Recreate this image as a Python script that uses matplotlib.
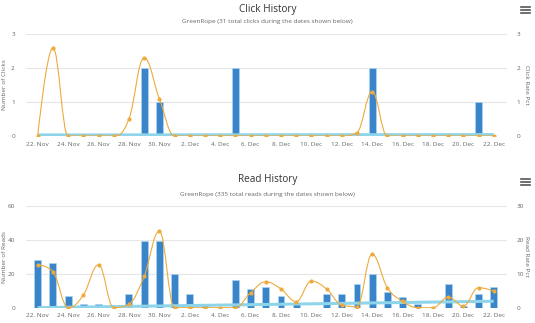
import numpy as np
import pandas as pd
import matplotlib
matplotlib.use("Agg")
import matplotlib.pyplot as plt
import matplotlib.dates as mdates
from matplotlib.path import Path
from matplotlib.patches import PathPatch
from matplotlib.lines import Line2D

plt.rcParams['font.family'] = ['Open Sans', 'DejaVu Sans']

# data
dates = pd.date_range("2015-11-22", "2015-12-22", freq="D")

click_counts = [0, 0, 0, 0, 0, 0, 0, 2, 1, 0, 0, 0, 0, 2, 0, 0,
                0, 0, 0, 0, 0, 0, 2, 0, 0, 0, 0, 0, 0, 1, 0]
click_rate = [0, 2.6, 0, 0, 0, 0, 0.5, 2.3, 1.1, 0, 0, 0, 0, 0, 0, 0,
              0, 0, 0, 0, 0, 0.1, 1.3, 0, 0, 0, 0, 0, 0, 0, 0]
click_trend = [0.03, 0.04]   # start / end of trend line

read_counts = [28, 26, 7, 2, 2, 0, 8, 39, 39, 20, 8, 2, 0, 16, 11, 12,
               7, 3, 0, 8, 8, 14, 20, 9, 6, 2, 0, 14, 1, 8, 12]
read_rate = [12.6, 10.6, 0, 3.7, 12.6, 0, 1.1, 9.2, 22.5, 0, 0, 0, 0, 0, 4.4, 7.6,
             5.5, 1.8, 7.8, 5.5, 0.8, 0.3, 15.7, 5.9, 1.9, 0, 0, 3.1, 0.5, 5.9, 4.9]
read_trend = [0.0, 1.9]

BAR_C = "#3a85c9"
LINE_C = "#eeaa3c"
TREND_C = "#8fd5ea"
GRID_C = "#e6e6e6"
TXT_C = "#666666"


def spline_path(xs, ys, smoothing=1.5):
    # highcharts-style spline: cubic bezier with horizontal tangents at extremes
    n = len(xs)
    denom = smoothing + 1
    lc = [None] * n
    rc = [None] * n
    for i in range(1, n - 1):
        px, py = xs[i], ys[i]
        lx, ly = xs[i - 1], ys[i - 1]
        nx, ny = xs[i + 1], ys[i + 1]
        lcx = (smoothing * px + lx) / denom
        lcy = (smoothing * py + ly) / denom
        rcx = (smoothing * px + nx) / denom
        rcy = (smoothing * py + ny) / denom
        if rcx != lcx:
            corr = (rcy - lcy) * (rcx - px) / (rcx - lcx) + py - rcy
            lcy += corr
            rcy += corr
        if lcy > ly and lcy > py:
            lcy = max(ly, py); rcy = 2 * py - lcy
        elif lcy < ly and lcy < py:
            lcy = min(ly, py); rcy = 2 * py - lcy
        if rcy > ny and rcy > py:
            rcy = max(ny, py); lcy = 2 * py - rcy
        elif rcy < ny and rcy < py:
            rcy = min(ny, py); lcy = 2 * py - rcy
        lc[i] = (lcx, lcy)
        rc[i] = (rcx, rcy)
    verts = [(xs[0], ys[0])]
    codes = [Path.MOVETO]
    for i in range(1, n):
        c1 = rc[i - 1] if rc[i - 1] is not None else (xs[i - 1], ys[i - 1])
        c2 = lc[i] if lc[i] is not None else (xs[i], ys[i])
        verts += [c1, c2, (xs[i], ys[i])]
        codes += [Path.CURVE4] * 3
    return Path(verts, codes)


def draw_panel(ax, counts, rate, trend, ymax, rmax, ylabel, rlabel):
    x = mdates.date2num(dates)
    ax2 = ax.twinx()
    ax.set_zorder(ax2.get_zorder() - 1)
    ax.patch.set_visible(True)
    ax2.patch.set_visible(False)

    ax.bar(x, counts, width=0.45, color=BAR_C, edgecolor="#a9d6f0", linewidth=0.5, zorder=3)
    ax.set_ylim(0, ymax)
    ax.set_yticks(np.linspace(0, ymax, 4))
    ax2.set_ylim(0, rmax)
    ax2.set_yticks(np.linspace(0, rmax, 4))

    ax2.plot([x[0], x[-1]], trend, color=TREND_C, lw=2.2, solid_capstyle="butt", zorder=2)
    ax2.add_patch(PathPatch(spline_path(list(x), list(rate)), fill=False,
                            edgecolor=LINE_C, lw=0.8, zorder=3))
    ax2.plot(x, rate, "o", color=LINE_C, ms=3, mec="none", zorder=4)

    ax.set_xlim(x[0] - 0.77, x[-1] + 0.87)
    ax.xaxis.set_major_locator(mdates.DayLocator(bymonthday=range(2, 32, 2)))
    ax.xaxis.set_major_formatter(mdates.DateFormatter("%-d. %b"))

    ax.grid(axis="y", color=GRID_C, lw=0.8)
    ax.set_axisbelow(True)
    for a in (ax, ax2):
        for s in a.spines.values():
            s.set_visible(False)
        a.tick_params(length=0, labelsize=4.6, colors=TXT_C)
    ax.tick_params(axis="y", pad=8)
    ax2.tick_params(axis="y", pad=7)
    ax.tick_params(axis="x", pad=4)
    ax.set_ylabel(ylabel, fontsize=4.6, color=TXT_C)
    ax.yaxis.set_label_coords(-0.039, 0.5)
    ax2.set_ylabel(rlabel, fontsize=4.6, color=TXT_C, rotation=270, va="center")
    ax2.yaxis.set_label_coords(1.041, 0.5)


def hamburger(fig, cx, cy):
    W, H = fig.bbox.width, fig.bbox.height
    for dy in (-2.7, 0, 2.7):
        y = 1 - (cy + dy) / H
        fig.add_artist(Line2D([(cx - 4.3) / W, (cx + 4.3) / W], [y, y],
                              color="#555555", lw=1.2, transform=fig.transFigure))


fig = plt.figure(figsize=(5.35, 3.23), dpi=100)
ax_top = fig.add_axes([0.0486, 0.579, 0.899, 0.3158])
ax_bot = fig.add_axes([0.0486, 0.0474, 0.899, 0.3158])

draw_panel(ax_top, click_counts, click_rate, click_trend, 3, 3,
           "Number of Clicks", "Click Rate Pct")
draw_panel(ax_bot, read_counts, read_rate, read_trend, 60, 30,
           "Number of Reads", "Read Rate Pct")

fig.text(0.5, 0.972, "Click History", ha="center", va="center", fontsize=7.2, color="#333333")
fig.text(0.5, 0.932, "GreenRope (31 total clicks during the dates shown below)",
         ha="center", va="center", fontsize=4.6, color=TXT_C)
fig.text(0.5, 0.443, "Read History", ha="center", va="center", fontsize=7.2, color="#333333")
fig.text(0.5, 0.398, "GreenRope (335 total reads during the dates shown below)",
         ha="center", va="center", fontsize=4.6, color=TXT_C)

hamburger(fig, 525.5, 10)
hamburger(fig, 525.5, 182)

fig.savefig("out.png", dpi=100, facecolor="white")
